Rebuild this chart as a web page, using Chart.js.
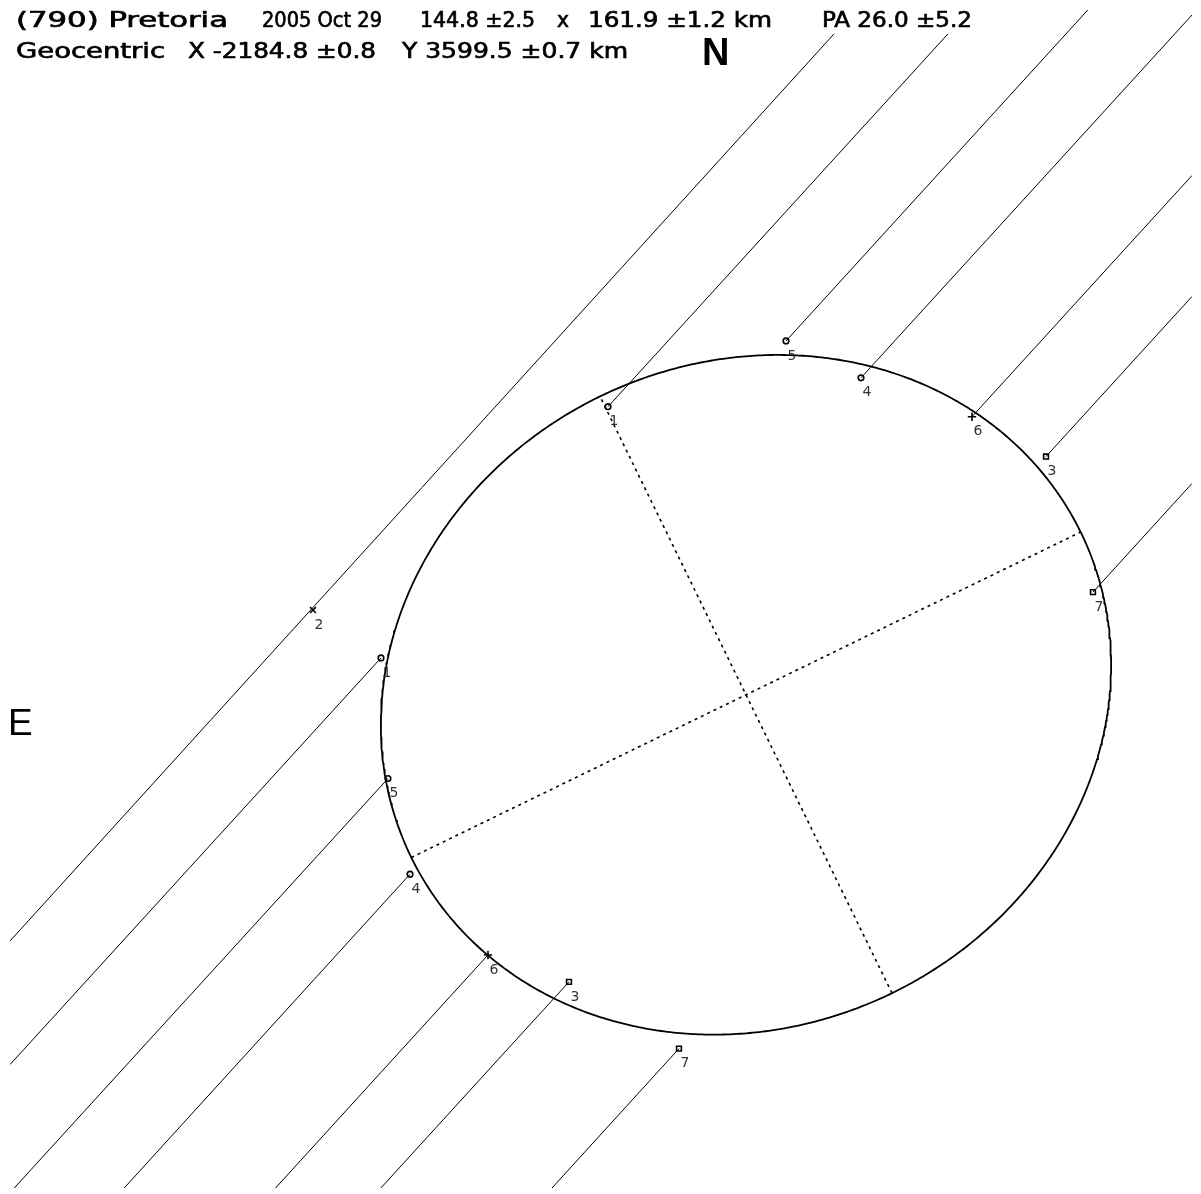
<!DOCTYPE html>
<html>
<head>
<meta charset="utf-8">
<script src="https://cdn.jsdelivr.net/npm/chart.js@4.4.1/dist/chart.umd.min.js"></script>
<style>
html,body{margin:0;padding:0;background:#fff;overflow:hidden}
canvas{display:block}
</style>
</head>
<body>
<canvas id="c" width="1201" height="1194"></canvas>
<script>
// ===== DATA (km on the fundamental plane; x to the right, y up; origin = fitted centre) =====
const chordIds      = ['1', '2', '5', '4', '6', '3', '7'];
const markerStyles  = ['circle', 'crossRot', 'circle', 'circle', 'cross', 'rect', 'rect'];
// disappearance (or miss) points
const disX = [-79.35, -94.13, -77.83, -73.04, -56.09, -38.48, -14.57];
const disY = [  8.04,  18.48, -18.26, -39.13, -56.74, -62.61, -77.17];
// reappearance points (chord 2 is a miss: none)
const reaX = [-30.00, null,  8.70, 25.00, 49.13, 65.22, 75.43];
const reaY = [ 62.83, null, 77.17, 69.13, 60.65, 51.96, 22.39];
// where each observer's track enters (lower left) and leaves (upper right) the plot
const trackStartX = [-160.0, -160.0, -159.1, -135.2, -102.3, -79.4, -42.2];
const trackStartY = [ -80.65, -53.70, -107.6, -107.6, -107.6, -107.6, -107.6];
const trackEndX   = [  43.90,  19.13,  74.30,  96.96,  96.96,  96.96,  96.96];
const trackEndY   = [ 144.13, 144.13, 149.35, 148.26, 113.26,  86.87,  46.09];

// fitted profile (from the title)
const majorAxisKm = 161.9;
const minorAxisKm = 144.8;
const axisAngleDeg = 26.0;

// plot window (km)
const xMin = -160.0, xMax = 96.96, yMin = -107.61, yMax = 149.35;

// ===== BUILD DATASETS =====
const datasets = [];
const lineStyle = {showLine: true, pointRadius: 0, borderColor: '#000', borderWidth: 1, fill: false, tension: 0};

chordIds.forEach((id, i) => {
  if (reaX[i] === null) {
    datasets.push(Object.assign({label: 'track ' + id, data: [
      {x: trackStartX[i], y: trackStartY[i]}, {x: trackEndX[i], y: trackEndY[i]}]}, lineStyle));
  } else {
    datasets.push(Object.assign({label: 'track ' + id + ' before', data: [
      {x: trackStartX[i], y: trackStartY[i]}, {x: disX[i], y: disY[i]}]}, lineStyle));
    datasets.push(Object.assign({label: 'track ' + id + ' after', data: [
      {x: reaX[i], y: reaY[i]}, {x: trackEndX[i], y: trackEndY[i]}]}, lineStyle));
  }
});

// ellipse outline
const a = majorAxisKm / 2, b = minorAxisKm / 2, th = axisAngleDeg * Math.PI / 180;
const ell = [];
for (let k = 0; k <= 720; k++) {
  const t = k / 720 * 2 * Math.PI;
  ell.push({x: a * Math.cos(t) * Math.cos(th) - b * Math.sin(t) * Math.sin(th),
            y: a * Math.cos(t) * Math.sin(th) + b * Math.sin(t) * Math.cos(th)});
}
datasets.push(Object.assign({}, lineStyle, {label: 'profile', data: ell, borderWidth: 1.8}));

// dotted axes
const dash = {showLine: true, pointRadius: 0, borderColor: '#000', borderWidth: 1.6, borderDash: [3, 4], fill: false};
datasets.push(Object.assign({label: 'major axis', data: [
  {x: -a * Math.cos(th), y: -a * Math.sin(th)}, {x: a * Math.cos(th), y: a * Math.sin(th)}]}, dash));
datasets.push(Object.assign({label: 'minor axis', data: [
  {x: b * Math.sin(th), y: -b * Math.cos(th)}, {x: -b * Math.sin(th), y: b * Math.cos(th)}]}, dash));

// event markers
const markerPts = [];
chordIds.forEach((id, i) => {
  markerPts.push({x: disX[i], y: disY[i], id: id, st: markerStyles[i]});
  if (reaX[i] !== null) markerPts.push({x: reaX[i], y: reaY[i], id: id, st: markerStyles[i]});
});
datasets.push({
  label: 'events', data: markerPts, showLine: false,
  pointStyle: markerPts.map(p => p.st),
  pointRadius: markerPts.map(p => p.st === 'circle' ? 2.8 : (p.st === 'rect' ? 3.4 : 4.2)),
  pointBorderWidth: 1.6, pointBorderColor: '#000', pointBackgroundColor: '#fff'
});

// ===== TEXT PLUGIN =====
const titleLine1 = [['(790) Pretoria', 16, 228], ['2005 Oct 29', 262, 382], ['144.8 \u00b12.5', 420, 535],
                    ['x', 557, 569], ['161.9 \u00b11.2 km', 588, 772], ['PA 26.0 \u00b15.2', 822, 972]];
const titleLine2 = [['Geocentric', 16, 165], ['X -2184.8 \u00b10.8', 188, 376], ['Y 3599.5 \u00b10.7 km', 402, 628]];

const textPlugin = {
  id: 'texts',
  afterDatasetsDraw(chart) {
    const ctx = chart.ctx;
    const xs = chart.scales.x, ys = chart.scales.y;
    ctx.save();
    // chord labels
    ctx.fillStyle = '#333';
    ctx.font = '14px "DejaVu Sans", sans-serif';
    ctx.textAlign = 'center';
    ctx.textBaseline = 'middle';
    markerPts.forEach(p => {
      ctx.fillText(p.id, xs.getPixelForValue(p.x) + 6, ys.getPixelForValue(p.y) + 15);
    });
    // title: each piece fitted to its slot
    ctx.fillStyle = '#000';
    ctx.strokeStyle = '#000';
    ctx.lineWidth = 0.6;
    ctx.textAlign = 'left';
    ctx.textBaseline = 'alphabetic';
    ctx.font = '21px "DejaVu Sans Condensed", "Liberation Sans", sans-serif';
    const drawSeg = (seg, base) => {
      const w = ctx.measureText(seg[0]).width;
      ctx.save();
      ctx.translate(seg[1], base);
      ctx.scale((seg[2] - seg[1]) / w, 1);
      ctx.fillText(seg[0], 0, 0);
      ctx.strokeText(seg[0], 0, 0);
      ctx.restore();
    };
    titleLine1.forEach(s => drawSeg(s, 27));
    titleLine2.forEach(s => drawSeg(s, 58));
    ctx.font = 'bold 38px "Liberation Sans", Arial, sans-serif';
    ctx.fillText('N', 702, 65);
    ctx.font = '37px "Liberation Sans", Arial, sans-serif';
    ctx.fillText('E', 8, 735);
    ctx.restore();
  }
};

new Chart(document.getElementById('c'), {
  type: 'scatter',
  data: {datasets},
  options: {
    responsive: false,
    animation: false,
    layout: {padding: {left: 10, right: 9, top: 10, bottom: 2}},
    plugins: {legend: {display: false}, tooltip: {enabled: false}},
    scales: {
      x: {type: 'linear', min: xMin, max: xMax, display: false},
      y: {type: 'linear', min: yMin, max: yMax, display: false}
    }
  },
  plugins: [textPlugin]
});
</script>
</body>
</html>
